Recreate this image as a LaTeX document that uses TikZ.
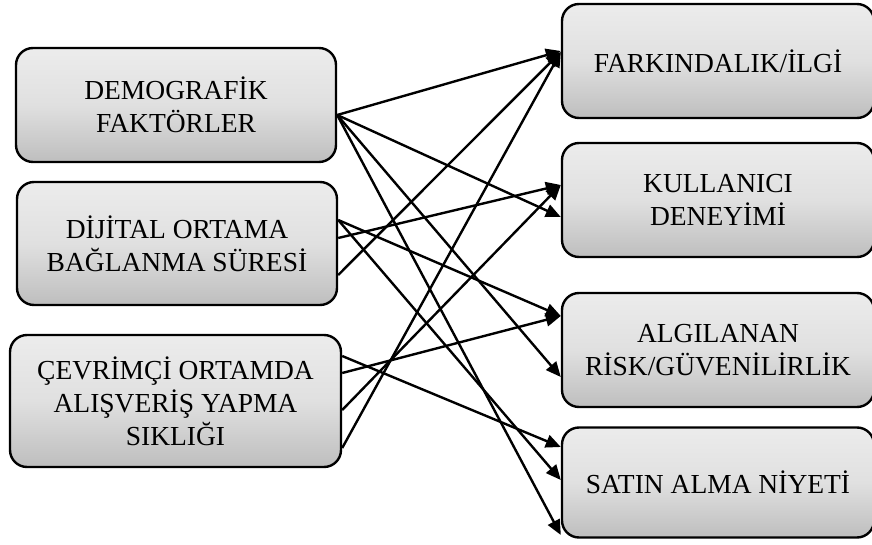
\documentclass[tikz,border=0pt]{standalone}
\usepackage{fontspec}
\setmainfont{Liberation Serif}
\usepackage{tikz}
\usetikzlibrary{positioning, arrows.meta, calc}
\definecolor{boxTop}{RGB}{236, 236, 236}
\definecolor{boxMid}{RGB}{224, 224, 224}
\definecolor{boxBottom}{RGB}{190, 190, 190}

\begin{document}
\begin{tikzpicture}[x=1pt, y=-1pt, >={Triangle[length=15pt, width=13pt]},
    factorBox/.style={draw, line width=2.4pt, rounded corners=17pt,
        top color=boxTop, bottom color=boxBottom, middle color=boxMid,
        align=center, inner sep=0pt,
        font=\fontsize{27.5}{33}\selectfont},
    link/.style={->, line width=2.4pt}]
        \useasboundingbox (0,0) rectangle (872,545);

        % left column
        \node[factorBox, minimum width=320pt, minimum height=114pt] (dem) at (176,105) {DEMOGRAFİK\\FAKTÖRLER};
        \node[factorBox, minimum width=320pt, minimum height=123pt] (dij) at (177,243.5) {DİJİTAL ORTAMA\\BAĞLANMA SÜRESİ};
        \node[factorBox, minimum width=331pt, minimum height=132pt] (cev) at (175.5,401) {ÇEVRİMÇİ ORTAMDA\\ALIŞVERİŞ YAPMA\\SIKLIĞI};

        % right column
        \node[factorBox, minimum width=312pt, minimum height=114pt] (far) at (718,61) {FARKINDALIK/İLGİ};
        \node[factorBox, minimum width=312pt, minimum height=114pt] (kul) at (718,200) {KULLANICI\\DENEYİMİ};
        \node[factorBox, minimum width=312pt, minimum height=114pt] (alg) at (718,350) {ALGILANAN\\RİSK/GÜVENİLİRLİK};
        \node[factorBox, minimum width=312pt, minimum height=110pt] (sat) at (718,482.5) {SATIN ALMA NİYETİ};

        % links from DEMOGRAFİK FAKTÖRLER
        \draw[link] ([yshift=-10pt]dem.east) -- ([yshift=10pt]far.west);
        \draw[link] ([yshift=-10pt]dem.east) -- ([yshift=-17pt]kul.west);
        \draw[link] ([yshift=-10pt]dem.east) -- ([yshift=-27pt]alg.west);
        \draw[link] ([yshift=-10pt]dem.east) -- ([yshift=-52.5pt]sat.west);

        % links from DİJİTAL ORTAMA BAĞLANMA SÜRESİ
        \draw[link] ([yshift=-31.5pt]dij.east) -- ([yshift=9pt]far.west);
        \draw[link] ([yshift=5.5pt]dij.east) -- ([yshift=15pt]kul.west);
        \draw[link] ([yshift=23.5pt]dij.east) -- ([yshift=34pt]alg.west);
        \draw[link] ([yshift=23.5pt]dij.east) -- ([yshift=2.5pt]sat.west);

        % links from ÇEVRİMÇİ ORTAMDA ALIŞVERİŞ YAPMA SIKLIĞI
        \draw[link] ([yshift=-47pt]cev.east) -- ([yshift=9pt]far.west);
        \draw[link] ([yshift=-9pt]cev.east) -- ([yshift=15pt]kul.west);
        \draw[link] ([yshift=28pt]cev.east) -- ([yshift=34pt]alg.west);
        \draw[link] ([yshift=45pt]cev.east) -- ([yshift=35.5pt]sat.west);
    \end{tikzpicture}
\end{document}
